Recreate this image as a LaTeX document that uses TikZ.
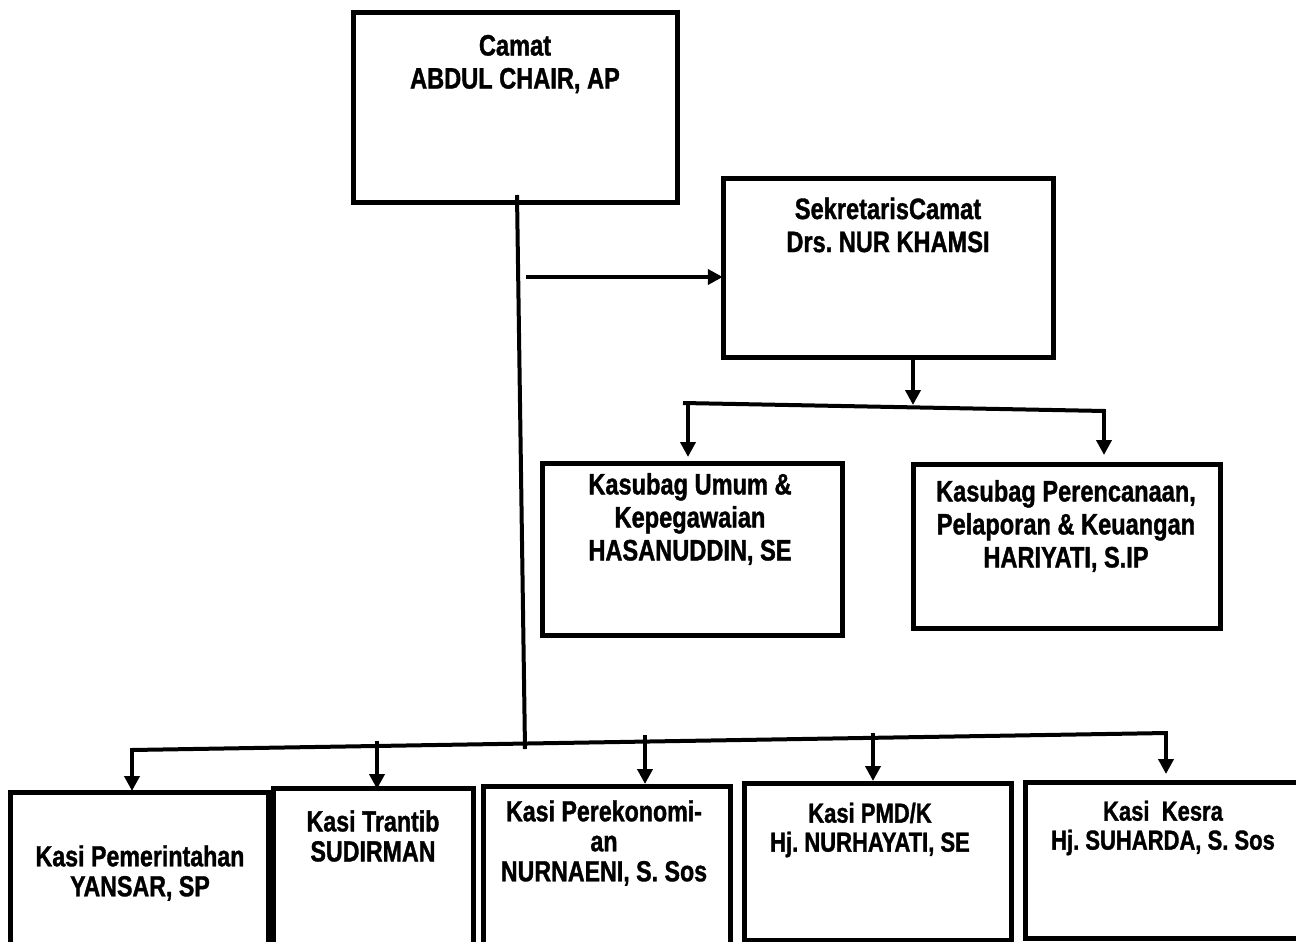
\documentclass[tikz,border=0pt]{standalone}
\usepackage{fontspec}
\newfontfamily\orgfont[FakeStretch=0.8,FakeBold=1.2]{Liberation Sans}
\frenchspacing
\usetikzlibrary{arrows.meta}
\begin{document}
\begin{tikzpicture}[x=1pt,y=-1pt,
  box/.style={draw,line width=5pt,inner sep=0pt},
  conn/.style={line width=4pt},
  arr/.style={line width=4pt,-{Triangle[width=15pt,length=15pt]}},
  lab/.style={align=center,inner sep=0pt,font=\orgfont\bfseries\fontsize{29.5}{33}\selectfont},
  labs/.style={align=center,inner sep=0pt,font=\orgfont\bfseries\fontsize{29}{30}\selectfont},
  labt/.style={align=center,inner sep=0pt,font=\orgfont\bfseries\fontsize{27.5}{29}\selectfont}]
\useasboundingbox (0,0) rectangle (1296,942);
\begin{scope}
\clip (0,0) rectangle (1296,942);
% boxes
\draw[box] (353,13) rectangle (677,202);
\node[inner sep=0pt,minimum width=324pt,minimum height=189pt] (camat) at (515,107.5) {};
\draw[box] (723,178) rectangle (1053,357);
\node[inner sep=0pt,minimum width=330pt,minimum height=179pt] (sek) at (888,267.5) {};
\draw[box] (542,463) rectangle (842,635);
\node[inner sep=0pt,minimum width=300pt,minimum height=172pt] (kum) at (692,549) {};
\draw[box] (913,464) rectangle (1220,628);
\node[inner sep=0pt,minimum width=307pt,minimum height=164pt] (kper) at (1066.5,546) {};
\draw[box] (10,792) rectangle (268,960);
\node[inner sep=0pt,minimum width=258pt,minimum height=168pt] (b1) at (139,876) {};
\draw[box] (273,788) rectangle (473,960);
\node[inner sep=0pt,minimum width=200pt,minimum height=172pt] (b2) at (373,874) {};
\draw[box] (483,786) rectangle (730,960);
\node[inner sep=0pt,minimum width=247pt,minimum height=174pt] (b3) at (606.5,873) {};
\draw[box] (744,783) rectangle (1011,940);
\node[inner sep=0pt,minimum width=267pt,minimum height=157pt] (b4) at (877.5,861.5) {};
\draw[box] (1025,782) rectangle (1320,938);
\node[inner sep=0pt,minimum width=295pt,minimum height=156pt] (b5) at (1172.5,860) {};
% labels
\node[lab] (tcamat) at (515,64) {Camat\\ABDUL CHAIR, AP};
\node[lab] (tsek) at (888,225) {SekretarisCamat\\Drs. NUR KHAMSI};
\node[lab] (tkum) at (690,519) {Kasubag Umum \&\\Kepegawaian\\HASANUDDIN, SE};
\node[lab] (tkper) at (1066,526) {Kasubag Perencanaan,\\Pelaporan \& Keuangan\\HARIYATI, S.IP};
\node[labs] (tb1) at (140,873) {Kasi Pemerintahan\\YANSAR, SP};
\node[labs] (tb2) at (373,836) {Kasi Trantib\\SUDIRMAN};
\node[labs] (tb3) at (604,843) {Kasi Perekonomi-\\an\\NURNAENI, S. Sos};
\node[labt] (tb4) at (870,830) {Kasi PMD/K\\Hj. NURHAYATI, SE};
\node[labt] (tb5) at (1163,828) {Kasi\ \ Kesra\\Hj. SUHARDA, S. Sos};
% coordinates
\coordinate (vtop) at (517,195);
\coordinate (vbot) at (525,749);
\coordinate (sekin) at (526,277);
\coordinate (ubarL) at (683,403);
\coordinate (ubarR) at (1105,411);
\coordinate (usek) at (913,405);
\coordinate (lbarL) at (132,750);
\coordinate (lbarR) at (1167,733);
% connectors
\draw[conn] (vtop) -- (vbot);
\draw[arr] (sekin) -- (sek.west |- sekin);
\draw[arr] (sek.south -| usek) -- (usek);
\draw[conn] (ubarL) -- (ubarR);
\draw[arr] (688,401) -- (688,457);
\draw[arr] (1104,409) -- (1104,455);
\draw[conn] (lbarL) -- (lbarR);
\draw[arr] (132,748) -- (132,791);
\draw[arr] (377,741) -- (377,789);
\draw[arr] (645,735) -- (645,784);
\draw[arr] (873,733) -- (873,781);
\draw[arr] (1166,731) -- (1166,774);
\end{scope}
\end{tikzpicture}
\end{document}
